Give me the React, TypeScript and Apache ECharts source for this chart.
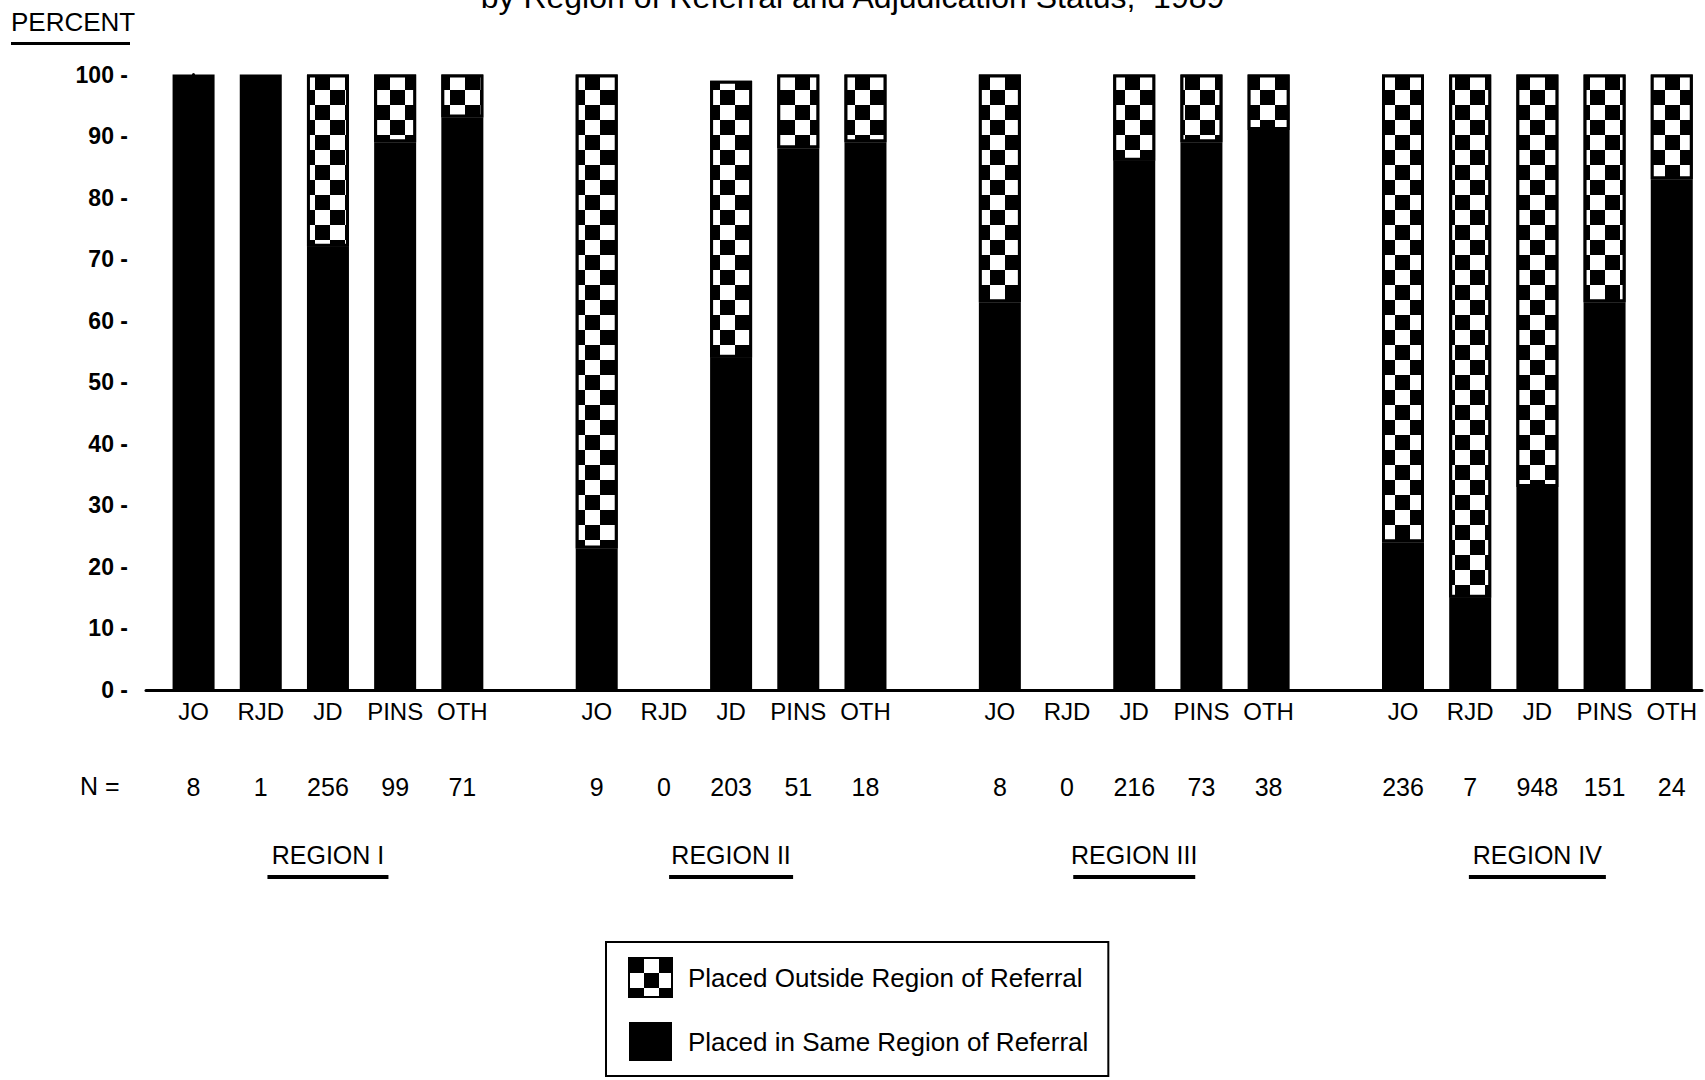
import React, { useEffect, useRef } from 'react';
import * as echarts from 'echarts';

const titleText = 'by Region of Referral and Adjudication Status,  1989';
const yAxisTitle = 'PERCENT';
const nLabel = 'N =';
const categories = ['JO', 'RJD', 'JD', 'PINS', 'OTH'];
const regions = ['REGION I', 'REGION II', 'REGION III', 'REGION IV'];
const seriesNames = ['Placed Outside Region of Referral', 'Placed in Same Region of Referral'];
const nCounts = [
  [8, 1, 256, 99, 71],
  [9, 0, 203, 51, 18],
  [8, 0, 216, 73, 38],
  [236, 7, 948, 151, 24],
];
const sameRegionPct = [
  [100, 100, 72, 89, 93],
  [23, 0, 54, 88, 89],
  [63, 0, 86, 89, 91],
  [24, 15, 33, 63, 83],
];
const outsideRegionPct = [
  [0, 0, 28, 11, 7],
  [77, 0, 45, 12, 11],
  [37, 0, 14, 11, 9],
  [76, 85, 67, 37, 17],
];

const SLOTS = 6; // 5 bars + one empty slot between regions
const FONT = '"Liberation Sans", Arial, Helvetica, sans-serif';

const slotOf = (r: number, c: number) => r * SLOTS + c;
const barSlots: number[] = regions.flatMap((_, r) => categories.map((_, c) => slotOf(r, c)));
const regionCenters: number[] = regions.map((_, r) => slotOf(r, 2));

// rows are [percent, slot] so that the percent dimension is the stacked one
function toSeriesData(table: number[][], dropZero: boolean) {
  return regions.flatMap((_, r) =>
    categories.map((_, c) => [dropZero && table[r][c] === 0 ? '-' : table[r][c], slotOf(r, c)])
  );
}

const underlineWidths = [121, 124, 122, 137];

export default function App() {
  const ref = useRef<HTMLDivElement>(null);
  useEffect(() => {
    if (!ref.current) return;
    const chart = echarts.init(ref.current, undefined, { renderer: 'svg' });
    const xMin = -0.708;
    const xMax = 22.45;
    const regionRich: any = {
      n: { fontSize: 25, lineHeight: 40, color: '#000', fontFamily: FONT },
    };
    underlineWidths.forEach((w, i) => {
      regionRich['u' + i] = { width: w, height: 4, backgroundColor: '#000' };
    });
    const option: any = {
      animation: false,
      backgroundColor: '#fff',
      textStyle: { fontFamily: FONT, color: '#000' },
      title: [
        {
          text: titleText,
          left: 'center',
          top: -19,
          padding: 0,
          textStyle: { fontSize: 32, fontWeight: 'normal', color: '#000', fontFamily: FONT },
        },
        {
          text: '{n|' + yAxisTitle + '}\n{u|}',
          left: 11,
          top: 2,
          padding: 0,
          textStyle: {
            fontWeight: 'normal',
            rich: {
              n: { fontSize: 26, fontWeight: 'normal', lineHeight: 40, color: '#000', fontFamily: FONT },
              u: { width: 119, height: 3, backgroundColor: '#000' },
            },
          },
        },
      ],
      legend: {
        orient: 'vertical',
        left: 606,
        top: 942,
        padding: [15, 20, 15, 22],
        itemGap: 24,
        itemWidth: 43,
        itemHeight: 39,
        borderColor: '#000',
        borderWidth: 2,
        borderRadius: 0,
        icon: 'rect',
        data: seriesNames,
        textStyle: { fontSize: 26, color: '#000', fontFamily: FONT, padding: [0, 0, 0, 11] },
      },
      grid: { left: 146, right: 3, top: 74.5, bottom: 390, containLabel: false },
      xAxis: [
        {
          type: 'value',
          min: xMin,
          max: xMax,
          splitLine: { show: false },
          axisLine: { show: true, lineStyle: { color: '#000', width: 3 } },
          axisTick: { show: false },
          axisLabel: {
            customValues: barSlots,
            margin: 9,
            fontSize: 24,
            color: '#000',
            formatter: (v: number) => categories[Math.round(v) % SLOTS] ?? '',
          },
        },
        {
          type: 'value',
          min: xMin,
          max: xMax,
          position: 'bottom',
          offset: 75,
          splitLine: { show: false },
          axisLine: { show: false },
          axisTick: { show: false },
          axisLabel: {
            customValues: barSlots,
            margin: 9,
            fontSize: 25,
            color: '#000',
            formatter: (v: number) => {
              const s = Math.round(v);
              const r = Math.floor(s / SLOTS);
              const c = s % SLOTS;
              return nCounts[r] && nCounts[r][c] !== undefined ? String(nCounts[r][c]) : '';
            },
          },
        },
        {
          type: 'value',
          min: xMin,
          max: xMax,
          position: 'bottom',
          offset: 137,
          splitLine: { show: false },
          axisLine: { show: false },
          axisTick: { show: false },
          axisLabel: {
            customValues: regionCenters,
            margin: 8,
            color: '#000',
            rich: regionRich,
            formatter: (v: number) => {
              const r = Math.round(v / SLOTS);
              return '{n|' + regions[r] + '}\n{u' + r + '|}';
            },
          },
        },
      ],
      yAxis: {
        type: 'value',
        min: 0,
        max: 100,
        interval: 10,
        splitLine: { show: false },
        axisLine: { show: true, lineStyle: { color: '#000', width: 3 } },
        axisTick: { show: false },
        axisLabel: {
          margin: 18,
          fontSize: 23,
          fontWeight: 'bold',
          color: '#000',
          formatter: '{value} -',
        },
      },
      graphic: [
        {
          type: 'text',
          left: 80,
          top: 773,
          style: { text: nLabel, fontSize: 25, fill: '#000', fontFamily: FONT },
        },
      ],
      series: [
        {
          name: seriesNames[1],
          type: 'bar',
          stack: 'total',
          barWidth: 42,
          xAxisIndex: 0,
          encode: { x: 1, y: 0 },
          itemStyle: { color: '#000' },
          data: toSeriesData(sameRegionPct, false),
        },
        {
          name: seriesNames[0],
          type: 'bar',
          stack: 'total',
          barWidth: 42,
          xAxisIndex: 0,
          encode: { x: 1, y: 0 },
          itemStyle: {
            color: '#000',
            borderColor: '#000',
            borderWidth: 3,
            decal: {
              symbol: 'rect',
              symbolSize: 1,
              color: '#fff',
              dashArrayX: [[15, 15], [0, 15, 15, 0]],
              dashArrayY: [15, 0],
              rotation: 0,
            },
          },
          data: toSeriesData(outsideRegionPct, true),
        },
      ],
    };
    chart.setOption(option);
    return () => chart.dispose();
  }, []);
  return (
    <div
      ref={ref}
      style={{ position: 'absolute', left: 0, top: 0, width: 1705, height: 1080, background: '#fff' }}
    />
  );
}
